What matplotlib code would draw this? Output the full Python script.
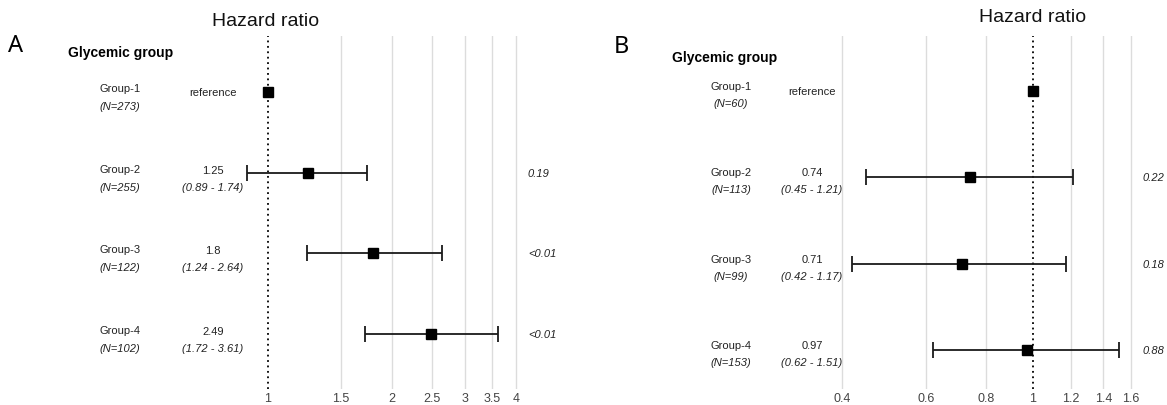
import numpy as np
import matplotlib
matplotlib.use("Agg")
import matplotlib.pyplot as plt

plt.rcParams["font.family"] = ["Liberation Sans", "DejaVu Sans"]

# ---- data ----
groups = ["Group-1", "Group-2", "Group-3", "Group-4"]

n_a = [273, 255, 122, 102]
hr_a = [1.0, 1.25, 1.8, 2.49]
lo_a = [np.nan, 0.89, 1.24, 1.72]
hi_a = [np.nan, 1.74, 2.64, 3.61]
p_a = ["", "0.19", "<0.01", "<0.01"]
ticks_a = [1, 1.5, 2, 2.5, 3, 3.5, 4]

n_b = [60, 113, 99, 153]
hr_b = [1.0, 0.74, 0.71, 0.97]
lo_b = [np.nan, 0.45, 0.42, 0.62]
hi_b = [np.nan, 1.21, 1.17, 1.51]
p_b = ["", "0.22", "0.18", "0.88"]
ticks_b = [0.4, 0.6, 0.8, 1, 1.2, 1.4, 1.6]

W, H = 1167, 406
fig = plt.figure(figsize=(W / 100, H / 100), dpi=100)


def fx(x):
    return x / W


def fy(y):
    return 1 - y / H


def panel(letter, rect, xlim, ylim, hr, lo, hi, n, p, ticks,
          letter_xy, title_xy, head_xy, col_group, col_val, col_p, p_ha,
          off_name, off_n, off_val, off_ci):
    ax = fig.add_axes(rect)
    ax.set_xscale("log")
    ax.set_xlim(*xlim)
    ax.set_ylim(*ylim)
    for t in ticks:
        if t == 1:
            ax.axvline(1, color="black", ls=(0, (1, 2)), lw=1.3, zorder=2)
        else:
            ax.axvline(t, color="#dcdcdc", lw=1.0, zorder=1)
    ax.set_xticks(ticks)
    ax.set_xticklabels([f"{t:g}" for t in ticks], fontsize=9, color="#444444")
    ax.minorticks_off()
    ax.tick_params(axis="x", length=0, pad=2)
    ax.set_yticks([])
    for s in ax.spines.values():
        s.set_visible(False)

    rows = np.arange(1, len(hr) + 1)
    lo = np.array(lo)
    hi = np.array(hi)
    hr = np.array(hr)
    has_ci = ~np.isnan(lo)
    ax.errorbar(hr[has_ci], rows[has_ci],
                xerr=[hr[has_ci] - lo[has_ci], hi[has_ci] - hr[has_ci]],
                fmt="none", ecolor="#1a1a1a", elinewidth=1.3, capsize=6,
                capthick=1.3, zorder=3)
    ax.plot(hr, rows, "s", color="black", ms=7.5, zorder=4)

    def put(txt, x, row, dy, **kw):
        ax.annotate(txt, xy=(fx(x), row), xycoords=("figure fraction", "data"),
                    xytext=(0, -dy * 0.72), textcoords="offset points",
                    va="center", annotation_clip=False, **kw)

    for i, r in enumerate(rows):
        put(groups[i], col_group, r, off_name, ha="center", fontsize=8, color="#222222")
        put(f"(N={n[i]})", col_group, r, off_n, ha="center", fontsize=8,
            style="italic", color="#222222")
        if has_ci[i]:
            put(f"{hr[i]:g}", col_val, r, off_val, ha="center", fontsize=8, color="#222222")
            put(f"({lo[i]:g} - {hi[i]:g})", col_val, r, off_ci, ha="center",
                fontsize=8, style="italic", color="#222222")
        else:
            put("reference", col_val, r, 0, ha="center", fontsize=8, color="#222222")
        if p[i]:
            put(p[i], col_p, r, 0, ha=p_ha, fontsize=8, style="italic", color="#222222")

    fig.text(fx(letter_xy[0]), fy(letter_xy[1]), letter, fontsize=17,
             family=["Noto Sans", "DejaVu Sans"], fontweight="light",
             ha="left", va="center")
    fig.text(fx(title_xy[0]), fy(title_xy[1]), "Hazard ratio", fontsize=14,
             ha="center", va="center", color="#111111")
    fig.text(fx(head_xy[0]), fy(head_xy[1]), "Glycemic group", fontsize=10,
             fontweight="bold", ha="left", va="center")
    return ax


# panel A: axes spans px 240..530, 37..390
panel("A", [fx(240), fy(390), fx(290), 353 / H], (0.855, 4.32), (4.68, 0.306),
      hr_a, lo_a, hi_a, n_a, p_a, ticks_a,
      letter_xy=(8, 46), title_xy=(266, 21), head_xy=(68, 53),
      col_group=120, col_val=213, col_p=528, p_ha="left",
      off_name=-4, off_n=14, off_val=-3, off_ci=14)

# panel B: axes spans px 830..1145, 37..390
panel("B", [fx(830), fy(390), fx(315), 353 / H], (0.378, 1.71), (4.45, 0.363),
      hr_b, lo_b, hi_b, n_b, p_b, ticks_b,
      letter_xy=(614, 47), title_xy=(1033, 18), head_xy=(672, 58),
      col_group=731, col_val=812, col_p=1164, p_ha="right",
      off_name=-5, off_n=12, off_val=-5, off_ci=12)

fig.savefig("out.png", dpi=100, facecolor="white")
